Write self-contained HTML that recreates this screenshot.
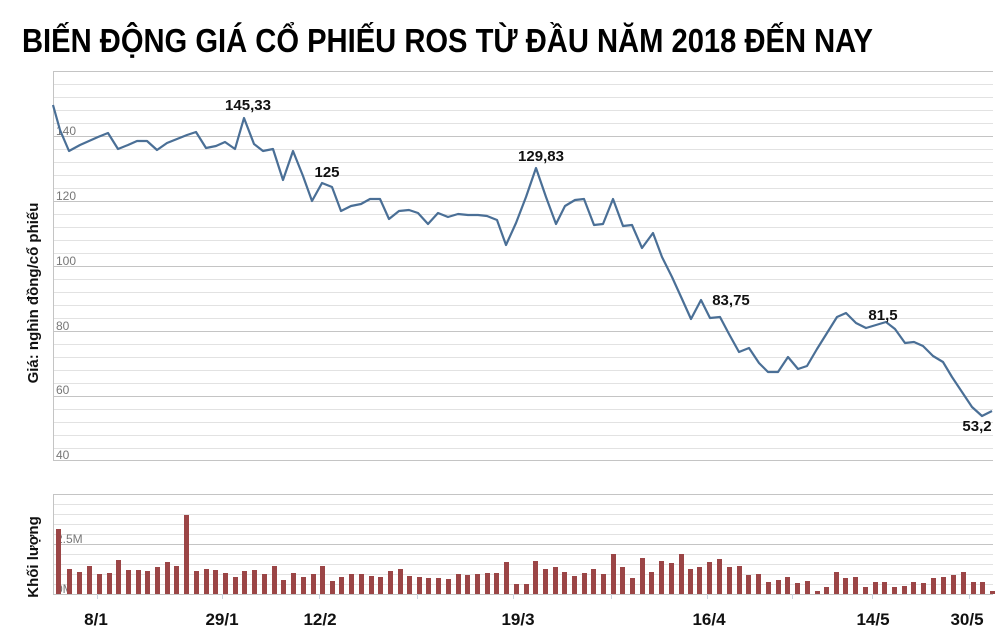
<!DOCTYPE html>
<html><head><meta charset="utf-8"><style>
html,body{margin:0;padding:0;background:#fff;}
svg{display:block;font-family:"Liberation Sans",sans-serif;}
</style></head><body>
<svg width="1005" height="637" viewBox="0 0 1005 637" xmlns="http://www.w3.org/2000/svg">
<rect width="1005" height="637" fill="#fff"/>
<text x="22" y="52" font-size="33" font-weight="bold" fill="#000" textLength="851" lengthAdjust="spacingAndGlyphs">BIẾN ĐỘNG GIÁ CỔ PHIẾU ROS TỪ ĐẦU NĂM 2018 ĐẾN NAY</text>
<g stroke="#e2e2e2" stroke-width="1">
<line x1="53" x2="993" y1="84.5" y2="84.5"/><line x1="53" x2="993" y1="97.5" y2="97.5"/><line x1="53" x2="993" y1="110.5" y2="110.5"/><line x1="53" x2="993" y1="123.5" y2="123.5"/>
<line x1="53" x2="993" y1="149.5" y2="149.5"/><line x1="53" x2="993" y1="162.5" y2="162.5"/><line x1="53" x2="993" y1="175.5" y2="175.5"/><line x1="53" x2="993" y1="188.5" y2="188.5"/>
<line x1="53" x2="993" y1="214.5" y2="214.5"/><line x1="53" x2="993" y1="227.5" y2="227.5"/><line x1="53" x2="993" y1="240.5" y2="240.5"/><line x1="53" x2="993" y1="253.5" y2="253.5"/>
<line x1="53" x2="993" y1="279.5" y2="279.5"/><line x1="53" x2="993" y1="292.5" y2="292.5"/><line x1="53" x2="993" y1="305.5" y2="305.5"/><line x1="53" x2="993" y1="318.5" y2="318.5"/>
<line x1="53" x2="993" y1="344.5" y2="344.5"/><line x1="53" x2="993" y1="357.5" y2="357.5"/><line x1="53" x2="993" y1="370.5" y2="370.5"/><line x1="53" x2="993" y1="383.5" y2="383.5"/>
<line x1="53" x2="993" y1="409.5" y2="409.5"/><line x1="53" x2="993" y1="422.5" y2="422.5"/><line x1="53" x2="993" y1="435.5" y2="435.5"/><line x1="53" x2="993" y1="448.5" y2="448.5"/>
<line x1="53" x2="993" y1="504.5" y2="504.5"/><line x1="53" x2="993" y1="514.5" y2="514.5"/><line x1="53" x2="993" y1="524.5" y2="524.5"/><line x1="53" x2="993" y1="534.5" y2="534.5"/>
<line x1="53" x2="993" y1="554.5" y2="554.5"/><line x1="53" x2="993" y1="564.5" y2="564.5"/><line x1="53" x2="993" y1="574.5" y2="574.5"/><line x1="53" x2="993" y1="584.5" y2="584.5"/>
</g>
<g stroke="#c4c4c4" stroke-width="1">
<line x1="53" x2="993" y1="71.5" y2="71.5"/><line x1="53" x2="993" y1="136.5" y2="136.5"/><line x1="53" x2="993" y1="201.5" y2="201.5"/><line x1="53" x2="993" y1="266.5" y2="266.5"/><line x1="53" x2="993" y1="331.5" y2="331.5"/><line x1="53" x2="993" y1="396.5" y2="396.5"/><line x1="53" x2="993" y1="460.5" y2="460.5"/>
<line x1="53" x2="993" y1="494.5" y2="494.5"/><line x1="53" x2="993" y1="544.5" y2="544.5"/><line x1="53" x2="993" y1="594.5" y2="594.5"/>
<line x1="53.5" x2="53.5" y1="71" y2="461"/><line x1="53.5" x2="53.5" y1="494" y2="595"/>
</g>
<g stroke="#c8d4e0" stroke-width="1">
<line x1="97.5" x2="97.5" y1="594" y2="599"/><line x1="222.5" x2="222.5" y1="594" y2="599"/><line x1="319.5" x2="319.5" y1="594" y2="599"/><line x1="417.5" x2="417.5" y1="594" y2="599"/><line x1="513.5" x2="513.5" y1="594" y2="599"/><line x1="611.5" x2="611.5" y1="594" y2="599"/><line x1="707.5" x2="707.5" y1="594" y2="599"/><line x1="792.5" x2="792.5" y1="594" y2="599"/><line x1="872.5" x2="872.5" y1="594" y2="599"/><line x1="969.5" x2="969.5" y1="594" y2="599"/>
</g>
<g font-size="12" fill="#777">
<text x="56" y="135">140</text><text x="56" y="200">120</text><text x="56" y="265">100</text><text x="56" y="330">80</text><text x="56" y="394">60</text><text x="56" y="459">40</text>
<text x="56" y="543">2.5M</text><text x="56" y="593">0M</text>
</g>
<g fill="#9b4546">
<rect x="56" y="529" width="5" height="65"/><rect x="67" y="569" width="5" height="25"/><rect x="77" y="572" width="5" height="22"/><rect x="87" y="566" width="5" height="28"/><rect x="97" y="574" width="5" height="20"/><rect x="107" y="573" width="5" height="21"/><rect x="116" y="560" width="5" height="34"/><rect x="126" y="570" width="5" height="24"/><rect x="136" y="570" width="5" height="24"/><rect x="145" y="571" width="5" height="23"/><rect x="155" y="567" width="5" height="27"/><rect x="165" y="562" width="5" height="32"/><rect x="174" y="566" width="5" height="28"/><rect x="184" y="515" width="5" height="79"/><rect x="194" y="571" width="5" height="23"/><rect x="204" y="569" width="5" height="25"/><rect x="213" y="570" width="5" height="24"/><rect x="223" y="573" width="5" height="21"/><rect x="233" y="577" width="5" height="17"/><rect x="242" y="571" width="5" height="23"/><rect x="252" y="570" width="5" height="24"/><rect x="262" y="574" width="5" height="20"/><rect x="272" y="566" width="5" height="28"/><rect x="281" y="580" width="5" height="14"/><rect x="291" y="573" width="5" height="21"/><rect x="301" y="577" width="5" height="17"/><rect x="311" y="574" width="5" height="20"/><rect x="320" y="566" width="5" height="28"/><rect x="330" y="581" width="5" height="13"/><rect x="339" y="577" width="5" height="17"/><rect x="349" y="574" width="5" height="20"/><rect x="359" y="574" width="5" height="20"/><rect x="369" y="576" width="5" height="18"/><rect x="378" y="577" width="5" height="17"/>
<rect x="388" y="571" width="5" height="23"/><rect x="398" y="569" width="5" height="25"/><rect x="407" y="576" width="5" height="18"/><rect x="417" y="577" width="5" height="17"/><rect x="426" y="578" width="5" height="16"/><rect x="436" y="578" width="5" height="16"/><rect x="446" y="579" width="5" height="15"/><rect x="456" y="574" width="5" height="20"/><rect x="465" y="575" width="5" height="19"/><rect x="475" y="574" width="5" height="20"/><rect x="485" y="573" width="5" height="21"/><rect x="494" y="573" width="5" height="21"/><rect x="504" y="562" width="5" height="32"/><rect x="514" y="584" width="5" height="10"/><rect x="524" y="584" width="5" height="10"/><rect x="533" y="561" width="5" height="33"/><rect x="543" y="569" width="5" height="25"/><rect x="553" y="567" width="5" height="27"/><rect x="562" y="572" width="5" height="22"/><rect x="572" y="576" width="5" height="18"/><rect x="582" y="573" width="5" height="21"/><rect x="591" y="569" width="5" height="25"/><rect x="601" y="574" width="5" height="20"/><rect x="611" y="554" width="5" height="40"/><rect x="620" y="567" width="5" height="27"/><rect x="630" y="578" width="5" height="16"/><rect x="640" y="558" width="5" height="36"/><rect x="649" y="572" width="5" height="22"/><rect x="659" y="561" width="5" height="33"/><rect x="669" y="563" width="5" height="31"/><rect x="679" y="554" width="5" height="40"/>
<rect x="688" y="569" width="5" height="25"/><rect x="697" y="567" width="5" height="27"/><rect x="707" y="562" width="5" height="32"/><rect x="717" y="559" width="5" height="35"/><rect x="727" y="567" width="5" height="27"/><rect x="737" y="566" width="5" height="28"/><rect x="746" y="575" width="5" height="19"/><rect x="756" y="574" width="5" height="20"/><rect x="766" y="582" width="5" height="12"/><rect x="776" y="580" width="5" height="14"/><rect x="785" y="577" width="5" height="17"/><rect x="795" y="583" width="5" height="11"/><rect x="805" y="581" width="5" height="13"/><rect x="815" y="591" width="5" height="3"/><rect x="824" y="587" width="5" height="7"/><rect x="834" y="572" width="5" height="22"/><rect x="843" y="578" width="5" height="16"/><rect x="853" y="577" width="5" height="17"/><rect x="863" y="587" width="5" height="7"/><rect x="873" y="582" width="5" height="12"/><rect x="882" y="582" width="5" height="12"/><rect x="892" y="587" width="5" height="7"/><rect x="902" y="586" width="5" height="8"/><rect x="911" y="582" width="5" height="12"/><rect x="921" y="583" width="5" height="11"/><rect x="931" y="578" width="5" height="16"/><rect x="941" y="577" width="5" height="17"/><rect x="951" y="575" width="5" height="19"/><rect x="961" y="572" width="5" height="22"/><rect x="971" y="582" width="5" height="12"/><rect x="980" y="582" width="5" height="12"/><rect x="990" y="591" width="5" height="3"/>
</g>
<polyline fill="none" stroke="#4a6f96" stroke-width="2.2" stroke-linejoin="round" points="53,105 60,130 69,151 80,145 98,137 108,133 118,149 128,145 137,141 147,141 157,150 167,143 177,139 187,135 196,132 206,148 216,146 225,142 235,149 244,118 254,144 263,151 273,149 283,180 293,151 303,176 312,201 322,183 332,187 341,211 351,206 361,204 370,199 380,199 389,219 399,211 409,210 418,213 428,224 438,213 448,217 458,214 468,215 478,215 487,216 497,220 506,245 516,223 526,197 536,168 546,197 556,224 565,206 575,200 584,199 594,225 603,224 613,199 623,226 632,225 642,248 653,233 662,257 672,277 682,299 691,319 701,300 710,318 720,317 729,334 739,352 749,348 759,363 768,372 778,372 788,357 798,369 807,366 817,349 827,333 837,317 846,313 856,323 866,328 876,325 886,322 895,329 905,343 914,342 923,346 933,356 943,362 952,377 962,392 972,407 982,416 992,411"/>
<g font-size="15" font-weight="bold" fill="#111" text-anchor="middle">
<text x="248" y="110">145,33</text><text x="327" y="177">125</text><text x="541" y="161">129,83</text><text x="731" y="305">83,75</text><text x="883" y="320">81,5</text><text x="977" y="431">53,2</text>
</g>
<g font-size="17" font-weight="bold" fill="#111" text-anchor="middle">
<text x="96" y="625">8/1</text><text x="222" y="625">29/1</text><text x="320" y="625">12/2</text><text x="518" y="625">19/3</text><text x="709" y="625">16/4</text><text x="873" y="625">14/5</text><text x="967" y="625">30/5</text>
</g>
<g font-size="15" font-weight="bold" fill="#111" text-anchor="middle">
<text transform="translate(38,293) rotate(-90)">Giá: nghìn đồng/cổ phiếu</text>
<text transform="translate(38,557) rotate(-90)">Khối lượng</text>
</g>
</svg>
</body></html>
